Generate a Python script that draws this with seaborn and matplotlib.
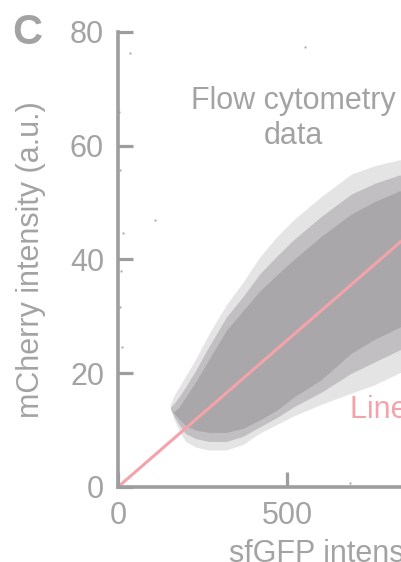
import numpy as np
import pandas as pd
import seaborn as sns
import matplotlib.pyplot as plt

# values (sfGFP vs mCherry, flow cytometry)
x_ticks = [0, 500, 1000, 1500]
y_ticks = [0, 20, 40, 60, 80]

# envelope of the point cloud: x positions with lower/upper bounds
cloud_x = [155, 165, 180, 200, 230, 270, 320, 370, 420, 470, 520, 600, 690, 760, 830, 900]
outer_lo = [14.0, 12.0, 10.0, 8.0, 7.0, 6.5, 6.5, 7.5, 9.5, 11.0, 12.5, 14.5, 16.5, 18.0, 20.0, 22.0]
outer_hi = [14.5, 16.0, 17.5, 19.5, 22.5, 27.0, 32.0, 36.0, 40.5, 44.0, 47.0, 51.0, 55.0, 56.5, 57.5, 58.0]
mid_lo = [13.8, 12.5, 11.0, 9.4, 8.5, 8.0, 8.0, 8.9, 10.6, 12.2, 14.1, 16.6, 20.0, 22.0, 24.0, 26.0]
mid_hi = [14.0, 14.6, 15.8, 17.6, 20.5, 24.8, 29.8, 33.5, 37.5, 40.6, 43.5, 47.5, 51.5, 53.4, 54.8, 55.5]
inner_lo = [13.5, 13.0, 12.0, 10.8, 10.0, 9.6, 9.6, 10.3, 11.8, 13.5, 15.8, 18.8, 23.5, 26.0, 28.0, 30.0]
inner_hi = [13.5, 13.2, 14.0, 15.8, 18.5, 22.5, 27.5, 31.0, 34.5, 37.3, 40.0, 44.0, 48.0, 50.2, 52.0, 53.0]

# stray events outside the main cloud
stray_x = [35, 553, 109, 6, 15, 6, 12, 686, 4, 8]
stray_y = [76.3, 77.3, 46.9, 55.7, 44.6, 31.6, 24.6, 0.7, 66.0, 38.0]

# linear fit
fit_x = [0, 900]
fit_y = [0, 46.4]

grey = '#a3a3a3'
cloud_col = '#a9a7a9'
pink = '#f4a3ab'

sns.set_style('ticks')
plt.rcParams['font.family'] = ['Liberation Sans', 'DejaVu Sans']
plt.rcParams['font.size'] = 22

fig = plt.figure(figsize=(4.02, 5.62), dpi=100)
ax = fig.add_axes([0.2935, 0.1335, 1.2612, 0.8096])

ax.fill_between(cloud_x, outer_lo, outer_hi, color=cloud_col, alpha=0.3, lw=0)
ax.fill_between(cloud_x, mid_lo, mid_hi, color=cloud_col, alpha=0.6, lw=0)
ax.fill_between(cloud_x, inner_lo, inner_hi, color=cloud_col, alpha=1.0, lw=0)

strays = pd.DataFrame({'x': stray_x, 'y': stray_y})
sns.scatterplot(data=strays, x='x', y='y', s=2, color=cloud_col, edgecolor=None, ax=ax)

fit = pd.DataFrame({'x': fit_x, 'y': fit_y})
sns.lineplot(data=fit, x='x', y='y', color=pink, lw=2.2, ax=ax)

ax.set_xlim(0, 1500)
ax.set_ylim(0, 80)
ax.set_xticks(x_ticks)
ax.set_yticks(y_ticks)
sns.despine(ax=ax)
for s in ['left', 'bottom']:
    ax.spines[s].set_color('#9e9e9e')
    ax.spines[s].set_linewidth(2.6)
ax.tick_params(direction='in', length=11, width=2.3, color='#9e9e9e',
               labelcolor=grey, labelsize=22, pad=10)

ax.set_xlabel('sfGFP intensity (a.u.)', color=grey, fontsize=22)
ax.set_ylabel('mCherry intensity (a.u.)', color=grey, fontsize=22)
ax.xaxis.set_label_coords(0.5, -0.114)
ax.yaxis.set_label_coords(-0.142, 0.5)

ax.text(518, 70.5, 'Flow cytometry\ndata', color=grey, fontsize=22,
        ha='center', va='top', multialignment='center')
ax.text(686, 12.1, 'Linear fit', color=pink, fontsize=22, va='baseline')

fig.text(12 / 402, 1 - 44 / 562, 'C', color=grey, fontsize=30, fontweight='bold',
         va='baseline')

fig.savefig('out.png', dpi=100)
